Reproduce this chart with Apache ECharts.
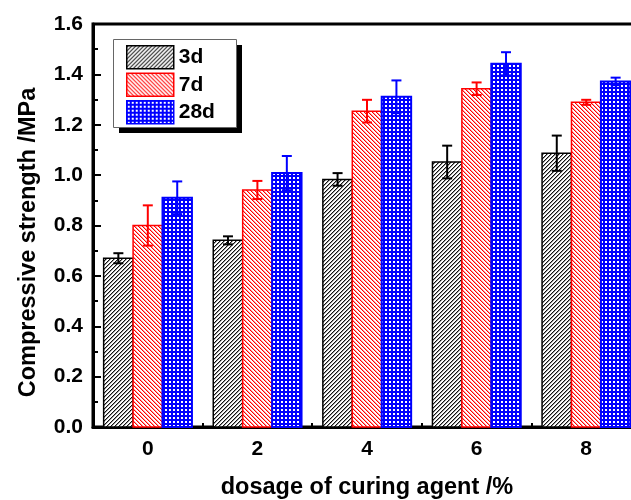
<!DOCTYPE html>
<html>
<head>
<meta charset="utf-8">
<script src="https://cdn.jsdelivr.net/npm/echarts@6/dist/echarts.min.js"></script>
<style>
  html, body { margin: 0; padding: 0; background: #fff; }
  #chart { width: 631px; height: 500px; }
</style>
</head>
<body>
<div id="chart"></div>
<script>
// Curing agent dosage (%) and mean compressive strength (MPa) with error
const categories = [0, 2, 4, 6, 8];
const seriesNames = ['3d', '7d', '28d'];
const strength3d = [0.670, 0.741, 0.983, 1.052, 1.087];
const error3d = [0.020, 0.016, 0.025, 0.065, 0.070];
const strength7d = [0.800, 0.941, 1.254, 1.343, 1.289];
const error7d = [0.080, 0.036, 0.045, 0.025, 0.010];
const strength28d = [0.910, 1.008, 1.311, 1.442, 1.372];
const error28d = [0.065, 0.068, 0.065, 0.046, 0.015];

const FONT = 'Liberation Sans, Arial, sans-serif';
const BAR_W = 0.537; // bar width in x-axis units

// Small repeating hatch tiles
function makeTile(size, painter) {
  const c = document.createElement('canvas');
  c.width = size; c.height = size;
  const ctx = c.getContext('2d');
  ctx.fillStyle = '#fff';
  ctx.fillRect(0, 0, size, size);
  for (let y = 0; y < size; y++) {
    for (let x = 0; x < size; x++) {
      const col = painter(x, y);
      if (col) { ctx.fillStyle = col; ctx.fillRect(x, y, 1, 1); }
    }
  }
  return { image: c, repeat: 'repeat' };
}
// forward-slash black lines
const hatchBlack = makeTile(4, (x, y) => {
  const k = (x + y) % 4;
  return k === 0 ? '#111' : (k === 1 ? '#9a9a9a' : null);
});
// back-slash red lines
const hatchRed = makeTile(4, (x, y) => {
  const k = (x - y + 8) % 4;
  return k === 0 ? '#ff0000' : (k === 1 ? '#ff9a9a' : null);
});
// dense blue cross-hatch with white holes
const hatchBlue = makeTile(4, (x, y) => {
  if ((x === 1 || x === 2) && (y === 1 || y === 2)) return null;
  return '#0000ff';
});

const fills = [hatchBlack, hatchRed, hatchBlue];
const strokes = ['#000000', '#ff0000', '#0000ff'];
const values = [strength3d, strength7d, strength28d];
const errors = [error3d, error7d, error28d];

function renderBar(params, api) {
  const si = params.seriesIndex;
  const x = api.value(0), y = api.value(1), e = api.value(2);
  const cx = x + (si - 1) * BAR_W;
  const tl = api.coord([cx - BAR_W / 2, y]);
  const br = api.coord([cx + BAR_W / 2, 0]);
  const hi = api.coord([cx, y + e]);
  const lo = api.coord([cx, y - e]);
  const color = strokes[si];
  const cap = 5;
  const lineStyle = { stroke: color, lineWidth: 2 };
  return {
    type: 'group',
    children: [
      {
        type: 'rect',
        shape: { x: tl[0], y: tl[1], width: br[0] - tl[0], height: br[1] - tl[1] },
        style: { fill: fills[si], stroke: color, lineWidth: si === 2 ? 2 : 1.5 }
      },
      { type: 'line', shape: { x1: hi[0], y1: hi[1], x2: lo[0], y2: lo[1] }, style: lineStyle },
      { type: 'line', shape: { x1: hi[0] - cap, y1: hi[1], x2: hi[0] + cap, y2: hi[1] }, style: lineStyle },
      { type: 'line', shape: { x1: lo[0] - cap, y1: lo[1], x2: lo[0] + cap, y2: lo[1] }, style: lineStyle }
    ]
  };
}

const chart = echarts.init(document.getElementById('chart'), null, { renderer: 'canvas' });

const boldText = { fontFamily: FONT, fontWeight: 'bold', color: '#000' };
const minorTickValues = categories.slice(1).map((v, i) => (v + categories[i]) / 2);

// legend frame geometry (box plus its solid drop shadow)
const LEG = { x: 113, y: 39, w: 123, h: 88, shadow: 6 };

chart.setOption({
  animation: false,
  backgroundColor: '#fff',
  grid: {
    left: 93, top: 24, width: 548, height: 403,
    outerBoundsMode: 'none',
    containLabel: false,
    show: true, borderColor: '#000', borderWidth: 3, backgroundColor: 'transparent'
  },
  graphic: [
    {
      type: 'rect', z: 10,
      shape: { x: LEG.x + LEG.shadow, y: LEG.y + LEG.shadow, width: LEG.w, height: LEG.h },
      style: { fill: '#000' }
    },
    {
      type: 'rect', z: 11,
      shape: { x: LEG.x + 0.5, y: LEG.y + 0.5, width: LEG.w, height: LEG.h },
      style: { fill: '#fff', stroke: '#666', lineWidth: 1 }
    }
  ],
  legend: {
    z: 12,
    orient: 'vertical',
    left: LEG.x, top: LEG.y,
    itemWidth: 47, itemHeight: 23, itemGap: 3,
    padding: [6, 21, 5, 13],
    icon: 'rect',
    selectedMode: false,
    textStyle: Object.assign({ fontSize: 21 }, boldText),
    data: seriesNames.map((n, i) => ({
      name: n,
      itemStyle: { color: fills[i], borderColor: strokes[i], borderWidth: 1.5 }
    }))
  },
  xAxis: [
    {
      type: 'value', min: -1, max: 9, position: 'bottom',
      name: 'dosage of curing agent /%', nameLocation: 'middle', nameGap: 49,
      nameTextStyle: Object.assign({ fontSize: 23.5 }, boldText),
      axisLine: { show: true, onZero: false, lineStyle: { color: '#000', width: 3 } },
      axisTick: { show: true, inside: true, length: 7, customValues: categories, lineStyle: { color: '#000', width: 2 } },
      axisLabel: Object.assign({ fontSize: 21, margin: 12, customValues: categories }, boldText),
      splitLine: { show: false }
    },
    {
      type: 'value', min: -1, max: 9, position: 'bottom',
      axisLine: { show: false, onZero: false },
      axisTick: { show: true, inside: true, length: 4, customValues: minorTickValues, lineStyle: { color: '#000', width: 2 } },
      axisLabel: { show: false },
      splitLine: { show: false }
    }
  ],
  yAxis: {
    type: 'value', min: 0, max: 1.6, interval: 0.2,
    name: 'Compressive strength /MPa', nameLocation: 'middle', nameGap: 52,
    nameTextStyle: Object.assign({ fontSize: 23.5, padding: [0, 34, 0, 0] }, boldText),
    axisLine: { show: true, onZero: false, lineStyle: { color: '#000', width: 3 } },
    axisTick: { show: true, inside: true, length: 8, lineStyle: { color: '#000', width: 2 } },
    minorTick: { show: true, splitNumber: 2, length: 5, lineStyle: { color: '#000', width: 2 } },
    axisLabel: Object.assign({ fontSize: 21, margin: 10, formatter: v => v.toFixed(1) }, boldText),
    splitLine: { show: false }
  },
  series: seriesNames.map((n, i) => ({
    name: n,
    type: 'custom',
    xAxisIndex: 0,
    yAxisIndex: 0,
    clip: false,
    itemStyle: { color: fills[i], borderColor: strokes[i], borderWidth: 1.5 },
    renderItem: renderBar,
    encode: { x: 0, y: 1 },
    data: categories.map((c, k) => [c, values[i][k], errors[i][k]])
  }))
});
</script>
</body>
</html>
